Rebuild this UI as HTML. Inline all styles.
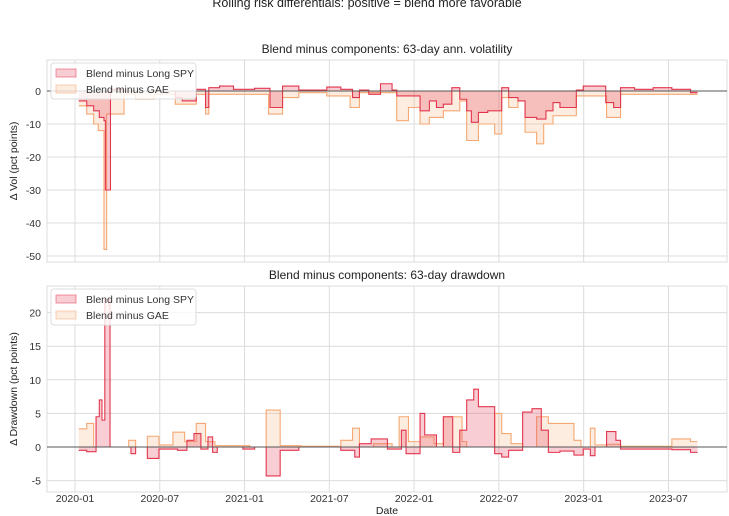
<!DOCTYPE html>
<html><head><meta charset="utf-8"><style>
html,body{margin:0;padding:0;background:#fff}
svg{display:block;font-family:"Liberation Sans",sans-serif}
</style></head><body>
<svg id="c" width="729" height="516" viewBox="0 0 729 516"></svg>
<script>
// months since 2020-01 (step starts), last entry = end
const volSpyM = [0.26,0.83,1.32,1.72,2.05,2.15,2.51,3.47,7.10,7.59,8.58,9.24,9.47,10.23,11.22,11.88,12.71,13.80,14.69,15.84,17.82,18.81,19.64,20.13,20.79,21.62,22.44,22.77,23.60,24.42,25.08,25.58,26.07,26.67,27.23,27.72,28.05,28.55,29.21,30.20,30.69,31.35,31.85,32.67,33.33,33.83,34.32,35.48,35.97,36.63,37.56,38.12,38.61,39.60,40.92,42.24,43.56,44.06];
const volSpyV = [-3,-4.5,-6,-8,-9,-30,0.5,0,-2,-3,0.5,-5,1,1.5,0.5,0.5,0.8,-5,1.5,0.3,1.2,0.5,-2,0.3,-1,2.2,0.3,-1.5,-1.5,-6,-3,-5,-4,1,-2.5,-6,-9.5,-6.5,-6,1,-2,-3,-8,-8.5,-6,-3.5,-5,0.3,1.5,1.5,-3.5,-5,1,0.5,1,0.5,-0.5];
const volGaeM = [0.26,0.83,1.32,1.65,2.05,2.24,3.47,4.29,5.61,7.10,8.58,9.24,9.47,11.22,13.70,14.69,15.84,17.82,19.47,20.13,22.77,23.60,24.42,25.08,26.07,27.23,27.72,28.55,29.70,30.20,30.69,31.35,31.85,32.67,33.17,33.83,35.48,37.62,38.61,44.06];
const volGaeV = [-4.5,-7,-10,-12,-48,-7,-1,-2.5,-1,-4,-1,-7,-1,-1,-7,-2,-0.5,-1.5,-5,-0.5,-9,-5,-10,-8,-6,-3,-15,-10,-13,-2,-5,-3,-12.5,-16,-10,-7.5,-1.5,-8,-1];
const ddSpyM = [0.26,0.83,1.49,1.72,1.91,2.11,2.48,3.96,4.29,5.12,5.94,7.26,7.92,8.42,8.91,9.41,9.74,10.07,11.88,12.71,13.53,14.52,15.84,18.81,19.80,20.13,20.96,22.11,23.10,23.43,24.42,24.75,25.58,26.07,26.73,27.23,27.72,28.22,28.55,29.70,30.20,30.69,31.68,32.34,33.00,33.50,34.32,35.31,35.97,36.47,36.80,37.62,38.28,38.61,42.24,43.56,44.06];
const ddSpyV = [-0.5,-0.7,4.5,7,4,22,0,-1,0,-1.7,-0.3,-0.5,1,2,-0.3,1.5,-0.8,0,-0.3,0,-4.3,-0.5,0,-0.5,-1.5,0.5,1.2,-0.3,2.5,-1,5,1.8,0,4.5,-0.8,2.5,7,8.6,6,-1,-1.5,-0.5,5.2,5.7,2.5,-0.8,-0.6,-1.2,-0.3,-1.3,0,2.3,1,-0.3,-0.4,-0.8];
const ddGaeM = [0.26,0.83,1.32,3.80,4.29,5.12,5.94,6.93,7.76,8.58,9.24,9.90,12.38,13.53,14.52,16.01,18.81,19.64,20.13,21.12,22.44,22.94,23.60,24.42,25.41,26.07,27.39,27.72,29.70,30.20,30.86,31.68,32.67,33.50,34.32,35.31,35.81,36.47,36.80,37.62,38.61,42.24,43.56,44.06];
const ddGaeV = [2.7,3.5,0,1,0,1.6,0.3,2.2,0.8,3.5,0.8,0.2,0,5.5,0.2,0.1,1,2.8,0,0.5,0,4.5,0.8,1.5,0.5,4.5,0.8,0,5,2,0.5,0,4.5,3.5,3.5,1,0,2.8,0.3,0.4,0.1,1.2,0.8];
const xTicks = ["2020-01","2020-07","2021-01","2021-07","2022-01","2022-07","2023-01","2023-07"];
const xTickM = [0,6,12,18,24,30,36,42];
const volTicks = [0,-10,-20,-30,-40,-50];
const ddTicks = [20,15,10,5,0,-5];

const NS="http://www.w3.org/2000/svg", svg=document.getElementById('c');
function mk(t,a,p){const e=document.createElementNS(NS,t);for(const k in a)e.setAttribute(k,a[k]);(p||svg).appendChild(e);return e;}
const X=m=>75+m*14.13;
const L=47,R=727;
const RED="#e2364e",ORG="#f5a873";

function panel(name,top,bot,y0,ppu,ticks,sM,sV,gM,gV,title,ylabel){
  const g=mk('g',{});
  
  
  const Y=v=>y0-v*ppu;
  mk('rect',{x:L,y:top,width:R-L,height:bot-top,fill:'#fff',stroke:'#dcdcdc','stroke-width':1},g);
  xTickM.forEach(m=>mk('line',{x1:X(m),x2:X(m),y1:top,y2:bot,stroke:'#dcdcdc','stroke-width':1},g));
  ticks.forEach(v=>{
    mk('line',{x1:L,x2:R,y1:Y(v),y2:Y(v),stroke:'#dcdcdc','stroke-width':1},g);
    const t=mk('text',{x:L-6,y:Y(v)+4,'text-anchor':'end','font-size':10.5,fill:'#333'},g);t.textContent=v;
    
    
  });
  function series(M,V,col,fa,nm){
    let d='M'+X(M[0])+','+Y(0);
    for(let i=0;i<V.length;i++){d+=' L'+X(M[i])+','+Y(V[i])+' L'+X(M[i+1])+','+Y(V[i]);}
    const f=mk('path',{d:d+' L'+X(M[M.length-1])+','+Y(0)+'Z',fill:col,'fill-opacity':fa,stroke:'none'},g);
    
    
    let l='';
    for(let i=0;i<V.length;i++){l+=(i?' L':'M')+X(M[i])+','+Y(V[i])+' L'+X(M[i+1])+','+Y(V[i]);}
    const p=mk('path',{d:l,fill:'none',stroke:col,'stroke-width':1.1},g);
    
    
  }
  series(gM,gV,ORG,0.22,'gae');
  series(sM,sV,RED,0.25,'long-spy');
  mk('line',{x1:L,x2:R,y1:Y(0),y2:Y(0),stroke:'#555','stroke-width':1},g);
  const tt=mk('text',{x:(L+R)/2,y:top-7,'text-anchor':'middle','font-size':12,fill:'#222'},g);tt.textContent=title;
  
  
  const yl=mk('text',{x:0,y:0,'text-anchor':'middle','font-size':10.5,fill:'#222',transform:`translate(17,${(top+bot)/2}) rotate(-90)`},g);yl.textContent=ylabel;
  
  
  const lg=mk('g',{},g);
  
  
  mk('rect',{x:51,y:top+3,width:145,height:36,rx:3,fill:'#fff','fill-opacity':0.8,stroke:'#ddd'},lg);
  [[RED,0.25,'Blend minus Long SPY'],[ORG,0.22,'Blend minus GAE']].forEach((e,i)=>{
    const yy=top+9+i*16;
    mk('rect',{x:56,y:yy,width:20,height:8,fill:e[0],'fill-opacity':e[1],stroke:e[0],'stroke-opacity':0.5},lg);
    const t=mk('text',{x:86,y:yy+8,'font-size':10.5,fill:'#333'},lg);t.textContent=e[2];
    
    
  });
}
const sup=mk('text',{x:367,y:7,'text-anchor':'middle','font-size':12.5,fill:'#222'});sup.textContent='Rolling risk differentials: positive = blend more favorable';


panel('volatility',60,262,91,3.3,volTicks,volSpyM,volSpyV,volGaeM,volGaeV,'Blend minus components: 63-day ann. volatility','Δ Vol (pct points)');
panel('drawdown',286,492,447,6.72,ddTicks,ddSpyM,ddSpyV,ddGaeM,ddGaeV,'Blend minus components: 63-day drawdown','Δ Drawdown (pct points)');
xTicks.forEach((s,i)=>{
  const t=mk('text',{x:X(xTickM[i]),y:502,'text-anchor':'middle','font-size':10.5,fill:'#333'});t.textContent=s;
  
  
});
const xl=mk('text',{x:387,y:514,'text-anchor':'middle','font-size':10.5,fill:'#222'});xl.textContent='Date';


</script>
</body></html>
